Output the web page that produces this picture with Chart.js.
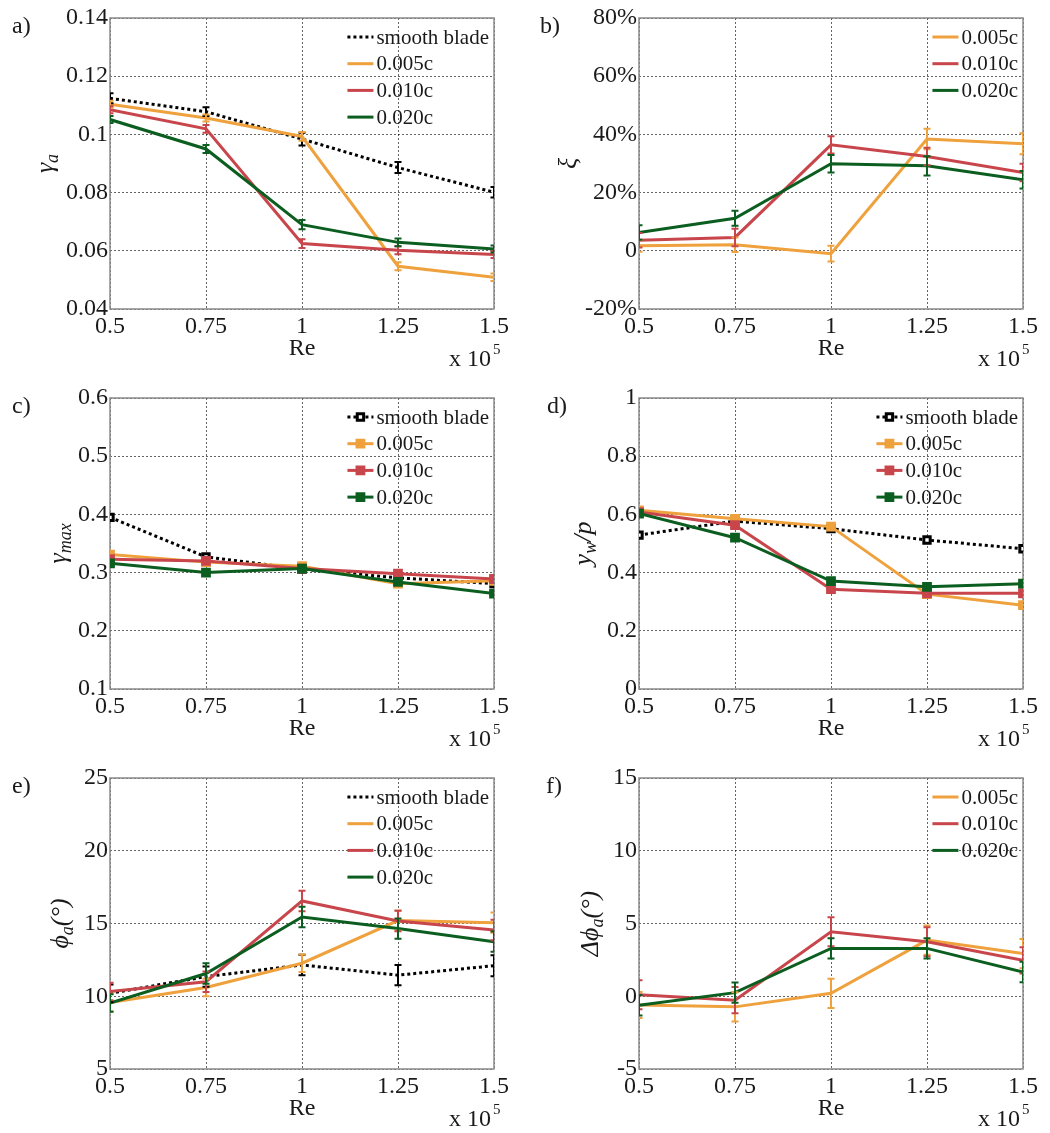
<!DOCTYPE html>
<html>
<head>
<meta charset="utf-8">
<script src="https://cdn.jsdelivr.net/npm/chart.js@4.4.0/dist/chart.umd.min.js"></script>
<style>
  body { margin: 0; background: #fff; }
  canvas { position: absolute; }
</style>
</head>
<body>
<canvas id="panelA" width="525" height="372" style="left:0;top:0"></canvas>
<canvas id="panelB" width="525" height="372" style="left:525px;top:0"></canvas>
<canvas id="panelC" width="525" height="380" style="left:0;top:372px"></canvas>
<canvas id="panelD" width="525" height="380" style="left:525px;top:372px"></canvas>
<canvas id="panelE" width="525" height="380" style="left:0;top:752px"></canvas>
<canvas id="panelF" width="525" height="380" style="left:525px;top:752px"></canvas>
<script>
(() => {
  'use strict'

  const reValues = [0.5, 0.75, 1, 1.25, 1.5];
  const reTickText = ['0.5', '0.75', '1', '1.25', '1.5'];

  // a) gamma_a
  const gammaASmooth = [0.1124, 0.1078, 0.0984, 0.0886, 0.0801];
  const gammaASmoothErr = [0.0017, 0.0015, 0.0022, 0.0019, 0.0018];
  const gammaA005 = [0.1104, 0.1056, 0.0993, 0.0547, 0.0509];
  const gammaA005Err = [0.0012, 0.0012, 0.0015, 0.0014, 0.0013];
  const gammaA010 = [0.1085, 0.1019, 0.0625, 0.0602, 0.0587];
  const gammaA010Err = [0.0012, 0.0013, 0.0015, 0.0014, 0.0012];
  const gammaA020 = [0.1051, 0.0950, 0.0690, 0.0629, 0.0606];
  const gammaA020Err = [0.0012, 0.0014, 0.0016, 0.0013, 0.0012];
  const gammaATicks = [0.04, 0.06, 0.08, 0.1, 0.12, 0.14];
  const gammaATickText = ['0.04', '0.06', '0.08', '0.1', '0.12', '0.14'];

  // b) xi (%)
  const xi005 = [1.7, 2.1, -1.0, 38.4, 36.8];
  const xi005Err = [2.0, 2.5, 2.7, 3.5, 3.6];
  const xi010 = [3.6, 4.6, 36.4, 32.4, 26.9];
  const xi010Err = [2.5, 3.0, 3.0, 3.0, 3.0];
  const xi020 = [6.3, 11.2, 29.9, 29.2, 24.4];
  const xi020Err = [2.5, 2.6, 3.0, 3.3, 3.0];
  const xiTicks = [-20, 0, 20, 40, 60, 80];
  const xiTickText = ['-20%', '0', '20%', '40%', '60%', '80%'];

  // c) gamma_max
  const gammaMaxSmooth = [0.395, 0.327, 0.306, 0.291, 0.281];
  const gammaMax005 = [0.331, 0.318, 0.311, 0.281, 0.286];
  const gammaMax010 = [0.323, 0.320, 0.307, 0.298, 0.289];
  const gammaMax020 = [0.316, 0.300, 0.307, 0.284, 0.264];
  const gammaMaxTicks = [0.1, 0.2, 0.3, 0.4, 0.5, 0.6];
  const gammaMaxTickText = ['0.1', '0.2', '0.3', '0.4', '0.5', '0.6'];

  // d) y_w / p
  const ywSmooth = [0.529, 0.577, 0.551, 0.512, 0.482];
  const yw005 = [0.614, 0.585, 0.558, 0.326, 0.288];
  const yw010 = [0.608, 0.563, 0.343, 0.329, 0.329];
  const yw020 = [0.603, 0.520, 0.371, 0.351, 0.362];
  const ywTicks = [0, 0.2, 0.4, 0.6, 0.8, 1];
  const ywTickText = ['0', '0.2', '0.4', '0.6', '0.8', '1'];

  // e) phi_a (deg)
  const phiSmooth = [10.2, 11.35, 12.15, 11.45, 12.1];
  const phiSmoothErr = [0.6, 0.7, 0.7, 0.7, 0.72];
  const phi005 = [9.57, 10.6, 12.27, 15.2, 15.06];
  const phi005Err = [0.6, 0.6, 0.6, 0.7, 0.7];
  const phi010 = [10.33, 11.0, 16.55, 15.17, 14.55];
  const phi010Err = [0.6, 0.7, 0.7, 0.7, 0.7];
  const phi020 = [9.53, 11.56, 15.45, 14.65, 13.75];
  const phi020Err = [0.6, 0.7, 0.7, 0.7, 0.7];
  const phiTicks = [5, 10, 15, 20, 25];
  const phiTickText = ['5', '10', '15', '20', '25'];

  // f) delta phi_a (deg)
  const dPhi005 = [-0.6, -0.73, 0.2, 3.86, 2.93];
  const dPhi005Err = [0.9, 1.0, 1.0, 1.0, 1.0];
  const dPhi010 = [0.1, -0.27, 4.43, 3.75, 2.47];
  const dPhi010Err = [1.0, 0.9, 1.0, 1.0, 0.9];
  const dPhi020 = [-0.62, 0.25, 3.29, 3.29, 1.67];
  const dPhi020Err = [0.7, 0.7, 0.7, 0.7, 0.7];
  const dPhiTicks = [-5, 0, 5, 10, 15];
  const dPhiTickText = ['-5', '0', '5', '10', '15'];

  const SERIF = '"Liberation Serif", "Times New Roman", serif';
  const TEXT = '#1a1a1a';

  const styles = {
    'smooth blade': { color: '#000000', dash: [3, 3], order: 4 },
    '0.005c': { color: '#eea13c', dash: [], order: 3 },
    '0.010c': { color: '#c8464b', dash: [], order: 2 },
    '0.020c': { color: '#0b5e1f', dash: [], order: 1 }
  };

  function series(label, values, errors, markers) {
    const st = styles[label];
    const smooth = label === 'smooth blade';
    return {
      label: label,
      data: reValues.map((x, i) => ({ x: x, y: values[i] })),
      errors: errors,
      markers: markers,
      borderColor: st.color,
      backgroundColor: st.color,
      borderWidth: 3,
      borderDash: st.dash,
      tension: 0,
      order: st.order,
      pointStyle: 'rect',
      pointRadius: markers ? (smooth ? 4.5 : 5.5) : 0,
      pointBorderWidth: smooth ? 3 : 2,
      pointBackgroundColor: smooth ? '#ffffff' : st.color,
      pointBorderColor: st.color
    };
  }

  // grey box around the plot area
  const framePlugin = {
    id: 'frame',
    beforeDatasetsDraw(chart) {
      const { ctx, chartArea: a } = chart;
      ctx.save();
      ctx.strokeStyle = '#8a8a8a';
      ctx.lineWidth = 1.5;
      ctx.strokeRect(a.left, a.top, a.right - a.left, a.bottom - a.top);
      ctx.restore();
    }
  };

  // vertical error bars with caps
  const errorBarPlugin = {
    id: 'errorBars',
    afterDatasetsDraw(chart) {
      const { ctx, chartArea: a, scales } = chart;
      ctx.save();
      ctx.beginPath();
      ctx.rect(a.left, a.top - 20, a.right - a.left, a.bottom - a.top + 40);
      ctx.clip();
      const sets = chart.data.datasets.slice().sort((p, q) => q.order - p.order);
      sets.forEach(ds => {
        if (!ds.errors) return;
        ctx.strokeStyle = ds.borderColor;
        ctx.lineWidth = 2;
        ctx.setLineDash([]);
        ds.data.forEach((p, i) => {
          const px = scales.x.getPixelForValue(p.x);
          const top = scales.y.getPixelForValue(p.y + ds.errors[i]);
          const bot = scales.y.getPixelForValue(p.y - ds.errors[i]);
          ctx.beginPath();
          ctx.moveTo(px, top); ctx.lineTo(px, bot);
          ctx.moveTo(px - 3.5, top); ctx.lineTo(px + 3.5, top);
          ctx.moveTo(px - 3.5, bot); ctx.lineTo(px + 3.5, bot);
          ctx.stroke();
        });
      });
      ctx.restore();
    }
  };

  // legend in the top right corner, line sample + optional marker
  const sampleLegendPlugin = {
    id: 'sampleLegend',
    afterDraw(chart) {
      const { ctx, chartArea: a } = chart;
      const sets = chart.data.datasets;
      ctx.save();
      ctx.font = '21px ' + SERIF;
      const maxW = Math.max(...sets.map(ds => ctx.measureText(ds.label).width));
      const textX = a.right - 5 - maxW;
      sets.forEach((ds, i) => {
        const y = a.top + 19 + i * 26.7;
        ctx.strokeStyle = ds.borderColor;
        ctx.lineWidth = 3;
        ctx.setLineDash(ds.borderDash);
        ctx.beginPath();
        ctx.moveTo(textX - 29, y);
        ctx.lineTo(textX - 3, y);
        ctx.stroke();
        ctx.setLineDash([]);
        if (ds.markers) {
          const cx = textX - 16;
          const s = ds.pointRadius * Math.SQRT1_2;
          ctx.fillStyle = ds.pointBackgroundColor;
          ctx.lineWidth = ds.pointBorderWidth;
          ctx.strokeStyle = ds.pointBorderColor;
          ctx.beginPath();
          ctx.rect(cx - s, y - s, 2 * s, 2 * s);
          ctx.fill();
          ctx.stroke();
        }
        ctx.fillStyle = TEXT;
        ctx.textAlign = 'left';
        ctx.textBaseline = 'middle';
        ctx.fillText(ds.label, textX, y + 1);
      });
      ctx.restore();
    }
  };

  // panel letter, rotated y title with subscripts, x 10^5 note
  const notesPlugin = {
    id: 'notes',
    afterDraw(chart, args, opts) {
      const { ctx, chartArea: a } = chart;
      ctx.save();
      ctx.fillStyle = TEXT;
      ctx.textBaseline = 'middle';
      ctx.textAlign = 'left';
      ctx.font = '24px ' + SERIF;
      ctx.fillText(opts.letter, opts.letterX, opts.letterY);

      // y title
      const big = 'italic 26px ' + SERIF;
      const small = 'italic 18px ' + SERIF;
      let total = 0;
      opts.yParts.forEach(p => {
        ctx.font = p[1] ? small : big;
        total += ctx.measureText(p[0]).width;
      });
      ctx.translate(a.left + opts.yTitleX, (a.top + a.bottom) / 2);
      ctx.rotate(-Math.PI / 2);
      ctx.textBaseline = 'alphabetic';
      let x = -total / 2;
      opts.yParts.forEach(p => {
        ctx.font = p[1] ? small : big;
        ctx.fillText(p[0], x, p[1] ? 13 : 8);
        x += ctx.measureText(p[0]).width;
      });
      ctx.setTransform(1, 0, 0, 1, 0, 0);

      // exponent of the Re axis
      ctx.textAlign = 'right';
      ctx.font = '24px ' + SERIF;
      ctx.fillText('x 10', a.right - 3, a.bottom + 57);
      ctx.textAlign = 'left';
      ctx.font = '15px ' + SERIF;
      ctx.fillText('5', a.right - 1, a.bottom + 45);
      ctx.restore();
    }
  };

  function makePanel(id, p) {
    return new Chart(document.getElementById(id), {
      type: 'line',
      data: { datasets: p.datasets },
      plugins: [framePlugin, errorBarPlugin, sampleLegendPlugin, notesPlugin],
      options: {
        responsive: false,
        animation: false,
        layout: { padding: { top: p.top, right: p.right, left: 0, bottom: 0 } },
        scales: {
          x: {
            type: 'linear',
            min: 0.5,
            max: 1.5,
            afterBuildTicks: s => { s.ticks = reValues.map(v => ({ value: v })); },
            afterFit: s => { s.height = 63; },
            ticks: {
              padding: 3,
              color: TEXT,
              font: { family: SERIF, size: 24 },
              maxRotation: 0,
              callback: (v, i) => reTickText[i]
            },
            grid: { color: 'rgba(0,0,0,0.6)', lineWidth: 1, drawTicks: false },
            border: { display: false, dash: [2, 2] },
            title: {
              display: true,
              text: 'Re',
              color: TEXT,
              font: { family: SERIF, size: 24 },
              padding: { top: 0, bottom: 9 }
            }
          },
          y: {
            type: 'linear',
            min: p.ticks[0],
            max: p.ticks[p.ticks.length - 1],
            afterBuildTicks: s => { s.ticks = p.ticks.map(v => ({ value: v })); },
            afterFit: s => { s.width = p.yWidth; },
            ticks: {
              padding: 2,
              color: TEXT,
              font: { family: SERIF, size: 24 },
              callback: (v, i) => p.tickText[i]
            },
            grid: { color: 'rgba(0,0,0,0.6)', lineWidth: 1, drawTicks: false },
            border: { display: false, dash: [2, 2] }
          }
        },
        plugins: {
          legend: { display: false },
          tooltip: { enabled: false },
          notes: {
            letter: p.letter,
            letterX: p.letterX,
            letterY: p.letterY,
            yParts: p.yParts,
            yTitleX: p.yTitleX
          }
        }
      }
    });
  }

  makePanel('panelA', {
    datasets: [
      series('smooth blade', gammaASmooth, gammaASmoothErr, false),
      series('0.005c', gammaA005, gammaA005Err, false),
      series('0.010c', gammaA010, gammaA010Err, false),
      series('0.020c', gammaA020, gammaA020Err, false)
    ],
    ticks: gammaATicks, tickText: gammaATickText,
    top: 18, right: 31, yWidth: 110,
    letter: 'a)', letterX: 12, letterY: 27,
    yParts: [['γ', false], ['a', true]], yTitleX: -65
  });

  makePanel('panelB', {
    datasets: [
      series('0.005c', xi005, xi005Err, false),
      series('0.010c', xi010, xi010Err, false),
      series('0.020c', xi020, xi020Err, false)
    ],
    ticks: xiTicks, tickText: xiTickText,
    top: 18, right: 27, yWidth: 114,
    letter: 'b)', letterX: 15, letterY: 27,
    yParts: [['ξ', false]], yTitleX: -71
  });

  makePanel('panelC', {
    datasets: [
      series('smooth blade', gammaMaxSmooth, null, true),
      series('0.005c', gammaMax005, null, true),
      series('0.010c', gammaMax010, null, true),
      series('0.020c', gammaMax020, null, true)
    ],
    ticks: gammaMaxTicks, tickText: gammaMaxTickText,
    top: 26, right: 31, yWidth: 110,
    letter: 'c)', letterX: 12, letterY: 35,
    yParts: [['γ', false], ['max', true]], yTitleX: -52
  });

  makePanel('panelD', {
    datasets: [
      series('smooth blade', ywSmooth, null, true),
      series('0.005c', yw005, null, true),
      series('0.010c', yw010, null, true),
      series('0.020c', yw020, null, true)
    ],
    ticks: ywTicks, tickText: ywTickText,
    top: 26, right: 27, yWidth: 114,
    letter: 'd)', letterX: 22, letterY: 35,
    yParts: [['y', false], ['w', true], ['/p', false]], yTitleX: -56
  });

  makePanel('panelE', {
    datasets: [
      series('smooth blade', phiSmooth, phiSmoothErr, false),
      series('0.005c', phi005, phi005Err, false),
      series('0.010c', phi010, phi010Err, false),
      series('0.020c', phi020, phi020Err, false)
    ],
    ticks: phiTicks, tickText: phiTickText,
    top: 26, right: 31, yWidth: 110,
    letter: 'e)', letterX: 12, letterY: 35,
    yParts: [['ϕ', false], ['a', true], ['(°)', false]], yTitleX: -50
  });

  makePanel('panelF', {
    datasets: [
      series('0.005c', dPhi005, dPhi005Err, false),
      series('0.010c', dPhi010, dPhi010Err, false),
      series('0.020c', dPhi020, dPhi020Err, false)
    ],
    ticks: dPhiTicks, tickText: dPhiTickText,
    top: 26, right: 27, yWidth: 114,
    letter: 'f)', letterX: 21, letterY: 35,
    yParts: [['Δϕ', false], ['a', true], ['(°)', false]], yTitleX: -49
  });

})();
</script>
</body>
</html>
